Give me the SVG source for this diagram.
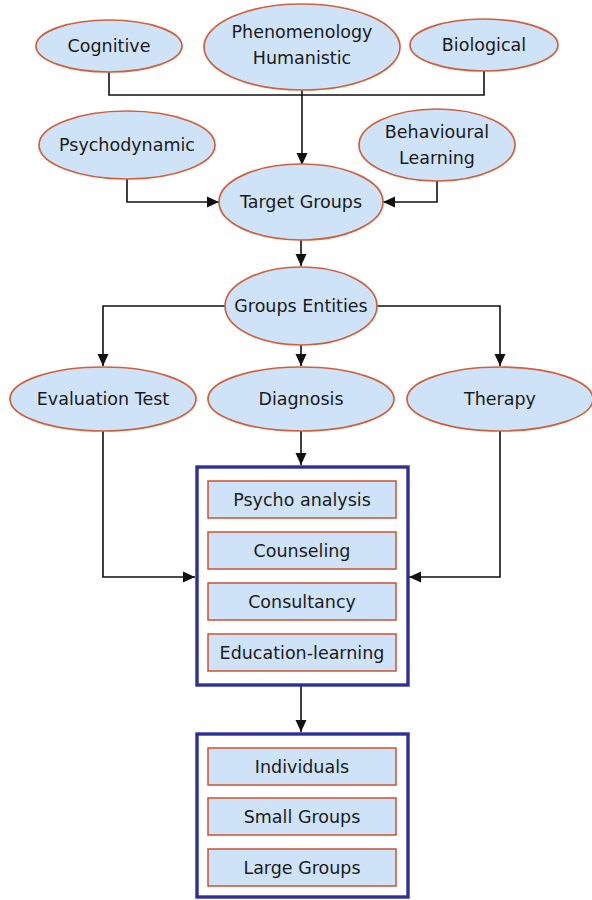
<svg xmlns="http://www.w3.org/2000/svg" width="592" height="900" viewBox="0 0 592 900">
  <style>
    .node ellipse { fill: #cfe3f8; stroke: #d0603c; stroke-width: 1.7; }
    .item rect { fill: #cfe3f8; stroke: #d0502e; stroke-width: 1.5; }
    .panel { fill: #ffffff; stroke: #2f2f9a; stroke-width: 3.4; }
    text { font-family: "DejaVu Sans", Verdana, sans-serif; font-size: 17.5px; fill: #1a1a1a; text-anchor: middle; dominant-baseline: central; }
    .wire { fill: none; stroke: #111111; stroke-width: 1.6; }
  </style>
  <defs>
    <marker id="arrow" viewBox="0 0 12 12" refX="12" refY="6" markerWidth="12" markerHeight="12" markerUnits="userSpaceOnUse" orient="auto">
      <path d="M0,0.5 L12,6 L0,11.5 Z" fill="#111111"/>
    </marker>
  </defs>
  <rect width="592" height="900" fill="#ffffff"/>

  <!-- connectors -->
  <g id="connectors">
    <path class="wire" d="M109,72 V95 H484 V71"/>
    <path class="wire" d="M302,90 V165" marker-end="url(#arrow)"/>
    <path class="wire" d="M127,179 V202 H219" marker-end="url(#arrow)"/>
    <path class="wire" d="M437,181 V202 H383" marker-end="url(#arrow)"/>
    <path class="wire" d="M301,240 V266" marker-end="url(#arrow)"/>
    <path class="wire" d="M226,306 H103 V366" marker-end="url(#arrow)"/>
    <path class="wire" d="M376,306 H500 V366" marker-end="url(#arrow)"/>
    <path class="wire" d="M301,345 V366" marker-end="url(#arrow)"/>
    <path class="wire" d="M103,431 V577 H195" marker-end="url(#arrow)"/>
    <path class="wire" d="M500,431 V577 H409" marker-end="url(#arrow)"/>
    <path class="wire" d="M301,431 V465" marker-end="url(#arrow)"/>
    <path class="wire" d="M301,686 V732" marker-end="url(#arrow)"/>
  </g>

  <!-- schools of thought -->
  <g id="cognitive" class="node">
    <ellipse cx="109" cy="46" rx="73" ry="26"/>
    <text x="109" y="46">Cognitive</text>
  </g>
  <g id="phenomenology" class="node">
    <ellipse cx="302" cy="47" rx="98" ry="43"/>
    <text x="302" y="32">Phenomenology</text>
    <text x="302" y="58">Humanistic</text>
  </g>
  <g id="biological" class="node">
    <ellipse cx="484" cy="45" rx="74" ry="26"/>
    <text x="484" y="45">Biological</text>
  </g>
  <g id="psychodynamic" class="node">
    <ellipse cx="127" cy="145" rx="88" ry="34"/>
    <text x="127" y="145">Psychodynamic</text>
  </g>
  <g id="behavioural" class="node">
    <ellipse cx="437" cy="145" rx="78" ry="36"/>
    <text x="437" y="132">Behavioural</text>
    <text x="437" y="158">Learning</text>
  </g>

  <!-- groups -->
  <g id="target-groups" class="node">
    <ellipse cx="301" cy="202" rx="82" ry="38"/>
    <text x="301" y="202">Target Groups</text>
  </g>
  <g id="groups-entities" class="node">
    <ellipse cx="301" cy="306" rx="76" ry="39"/>
    <text x="301" y="306">Groups Entities</text>
  </g>

  <!-- activities -->
  <g id="evaluation-test" class="node">
    <ellipse cx="103" cy="399" rx="93" ry="32"/>
    <text x="103" y="399">Evaluation Test</text>
  </g>
  <g id="diagnosis" class="node">
    <ellipse cx="301" cy="399" rx="93" ry="32"/>
    <text x="301" y="399">Diagnosis</text>
  </g>
  <g id="therapy" class="node">
    <ellipse cx="500" cy="399" rx="93" ry="32"/>
    <text x="500" y="399">Therapy</text>
  </g>

  <!-- methods panel -->
  <g id="methods">
    <rect class="panel" x="197" y="467" width="211" height="218"/>
    <g class="item">
      <rect x="208" y="481" width="188" height="37"/>
      <text x="302" y="500">Psycho analysis</text>
    </g>
    <g class="item">
      <rect x="208" y="532" width="188" height="37"/>
      <text x="302" y="551">Counseling</text>
    </g>
    <g class="item">
      <rect x="208" y="583" width="188" height="37"/>
      <text x="302" y="602">Consultancy</text>
    </g>
    <g class="item">
      <rect x="208" y="634" width="188" height="37"/>
      <text x="302" y="653">Education-learning</text>
    </g>
  </g>

  <!-- audience panel -->
  <g id="audience">
    <rect class="panel" x="197" y="734" width="211" height="163"/>
    <g class="item">
      <rect x="208" y="748" width="188" height="37"/>
      <text x="302" y="767">Individuals</text>
    </g>
    <g class="item">
      <rect x="208" y="798" width="188" height="37"/>
      <text x="302" y="817">Small Groups</text>
    </g>
    <g class="item">
      <rect x="208" y="849" width="188" height="37"/>
      <text x="302" y="868">Large Groups</text>
    </g>
  </g>
</svg>
